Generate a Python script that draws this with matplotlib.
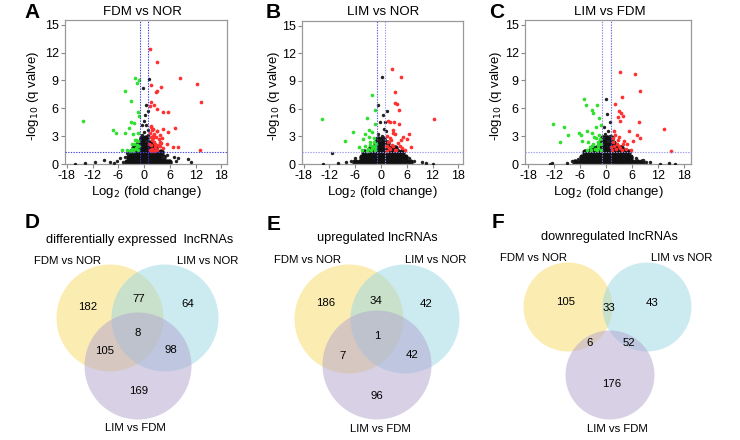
import matplotlib
matplotlib.use("Agg")
import matplotlib.pyplot as plt
from matplotlib.patches import Circle

plt.rcParams['font.family'] = ['Liberation Sans', 'DejaVu Sans']
plt.rcParams['axes.unicode_minus'] = False

W, H = 740, 440

# ---------------- volcano data ----------------
panel_titles = ["FDM vs NOR", "LIM vs NOR", "LIM vs FDM"]
panel_letters = ["A", "B", "C"]
x_ticks = [-18, -12, -6, 0, 6, 12, 18]
y_ticks = [0, 3, 6, 9, 12, 15]

# Panel A
a_red_x = [1.3, 3.1, 8.3, 12.3, 13.2, 3.9, 3.0, 2.8, 1.6, 1.6, 2.2, 1.3, 3.0, 4.4, 5.5, 1.6, 2.1, 3.0, 4.3,
           5.5, 7.2, 1.6, 3.8, 5.3, 6.7, 8.0, 13.1, 4.5, 3.4, 1.3, 1.6, 1.9, 2.2, 2.5, 2.8, 3.1, 1.4, 2.0,
           2.6, 3.4, 1.8, 2.3, 3.8, 1.2, 4.2, 2.9, 1.5, 2.4, 3.6, 1.7, 2.7, 3.3, 1.9, 4.0, 2.1]
a_red_y = [12.4, 11.0, 9.3, 8.6, 6.7, 8.3, 7.9, 7.7, 8.5, 6.7, 6.4, 6.2, 5.9, 5.6, 5.6, 4.0, 3.8, 3.5, 3.8,
           3.4, 3.9, 2.9, 2.4, 2.1, 1.8, 1.8, 1.5, 1.7, 1.9, 1.5, 2.0, 1.6, 2.4, 1.8, 2.9, 1.5, 3.3, 3.0,
           2.2, 2.7, 2.6, 1.4, 1.9, 2.2, 2.8, 3.5, 4.1, 3.2, 3.1, 1.4, 1.6, 2.0, 3.7, 2.3, 2.8]
a_green_x = [-14.2, -7.3, -6.5, -4.5, -3.1, -2.1, -1.1, -1.7, -1.4, -1.1, -2.3, -3.1, -3.6, -4.4, -2.6,
             -1.5, -5.2, -4.0, -2.8, -2.1, -1.3, -1.8, -1.3, -1.6, -2.0, -2.3, -1.4, -2.8, -1.9, -3.2,
             -1.2, -2.5]
a_green_y = [4.6, 3.7, 3.3, 7.9, 6.8, 9.3, 9.0, 8.7, 5.6, 5.2, 4.4, 4.5, 3.9, 3.3, 3.2,
             3.3, 1.5, 1.5, 2.2, 2.6, 1.9, 1.7, 1.5, 2.0, 1.6, 2.2, 2.5, 1.6, 2.6, 1.4,
             1.9, 1.4]
a_black_x = [-13.7, -11.4, -9.4, -7.9, -7.1, -6.3, -5.5, 6.9, 8.0, 10.3, 11.0, 5.3, 4.5, -4.4, -4.0,
             1.05, -0.3, 0.5, 0.8, 0.3, -0.1, -0.5, 0.5, 0.8, -0.1, -0.5, 0.8, -0.9, 0.35, -16.0, -5.0, 7.5]
a_black_y = [0.1, 0.25, 0.4, 0.25, 0.1, 0.3, 0.6, 0.8, 0.6, 0.5, 0.25, 1.0, 0.8, 0.8, 1.15,
             9.1, 8.2, 6.4, 5.7, 5.3, 4.6, 4.2, 4.2, 3.7, 3.4, 3.1, 3.1, 2.6, 2.5, 0.05, 0.2, 0.3]
a_core_x = [-4.0, -3.0, -2.0, -1.0, 0.0, 1.0, 2.0, 3.0, 4.0, 5.0, 5.8,
            -3.5, -2.5, -1.5, -0.5, 0.5, 1.5, 2.5, 3.5, 4.5,
            -3.0, -2.0, -1.0, 0.0, 1.0, 2.0, 3.0, 4.0,
            -2.3, -1.3, -0.3, 0.7, 1.7, 2.6,
            -1.2, -0.2, 0.8, 1.6,
            -0.5, 0.5]
a_core_y = [0.25] * 11 + [0.75] * 9 + [1.25] * 8 + [1.75] * 6 + [2.25] * 4 + [2.75] * 2

# Panel B
b_red_x = [2.5, 4.7, 3.3, 3.3, 3.7, 4.1, 12.4, 1.6, 2.0, 3.0, 4.1, 2.8, 3.3, 6.6, 5.2, 6.0, 4.7, 2.1,
           3.9, 2.5, 7.0, 4.8, 1.9, 3.3, 1.4, 5.6, 1.3, 1.7, 2.2, 2.9, 1.5, 2.4, 3.6, 1.2, 2.7, 4.4]
b_red_y = [10.3, 9.4, 7.8, 6.6, 6.5, 5.8, 4.9, 4.7, 4.5, 4.5, 4.3, 3.7, 3.2, 3.3, 2.9, 2.7, 2.6, 2.8,
           2.3, 2.1, 1.8, 1.7, 1.7, 1.5, 1.9, 1.5, 1.4, 2.4, 1.6, 1.9, 3.0, 2.6, 1.5, 2.0, 3.4, 2.0]
b_green_x = [-13.8, -8.3, -6.6, -3.3, -2.0, -1.5, -1.4, -3.7, -2.7, -2.1, -4.1, -2.9, -5.2, -3.7, -2.5,
             -1.7, -1.4, -2.3, -4.5, -1.3, -1.8, -2.2, -3.0, -1.6, -2.6, -1.2, -3.3]
b_green_y = [4.9, 2.5, 3.5, 5.0, 7.5, 5.8, 4.3, 3.3, 3.7, 3.5, 2.7, 2.9, 1.8, 1.9, 2.1,
             2.4, 1.8, 1.5, 1.5, 1.5, 2.0, 1.7, 1.6, 2.8, 2.4, 2.2, 1.4]
b_black_x = [0.35, -0.7, 1.4, 0.4, 0.6, -11.4, -0.3, 0.9, -0.6, 0.2, 1.1, -0.2, 0.7,
             -13.5, -10.0, -8.2, -7.0, 7.8, 9.5, 10.5, 12.0, 6.5, -6.0]
b_black_y = [9.4, 6.4, 5.7, 5.3, 3.8, 1.2, 4.6, 4.5, 3.3, 3.0, 3.6, 2.6, 2.7,
             0.05, 0.1, 0.2, 0.35, 0.35, 0.2, 0.1, 0.05, 0.7, 0.6]
b_core_x = [-6.0, -5.0, -4.0, -3.0, -2.0, -1.0, 0.0, 1.0, 2.0, 3.0, 4.0, 5.0, 6.0, 6.8,
            -4.5, -3.5, -2.5, -1.5, -0.5, 0.5, 1.5, 2.5, 3.5, 4.5, 5.5,
            -4.0, -3.0, -2.0, -1.0, 0.0, 1.0, 2.0, 3.0, 4.0, 5.0,
            -2.4, -1.4, -0.4, 0.6, 1.6, 2.6, 3.2,
            -1.2, -0.2, 0.8, 1.4,
            -0.6, 0.5]
b_core_y = [0.25] * 14 + [0.75] * 11 + [1.25] * 10 + [1.75] * 7 + [2.25] * 4 + [2.75] * 2

# Panel C
c_red_x = [3.1, 6.7, 7.8, 3.6, 2.0, 3.0, 3.4, 3.8, 2.8, 3.2, 7.5, 13.4, 1.8, 5.2, 7.1, 7.8, 6.1, 5.8,
           14.9, 1.5, 2.6, 3.8, 1.8, 3.2, 4.9, 1.3, 2.2, 2.9, 3.6, 4.2, 1.6, 2.4, 3.0, 1.2, 4.5, 2.0]
c_red_y = [9.9, 9.7, 7.9, 7.2, 6.5, 5.7, 5.5, 5.2, 5.1, 4.6, 4.5, 3.8, 3.6, 3.5, 3.1, 2.8, 2.5, 1.5,
           1.4, 2.4, 2.6, 2.2, 1.9, 1.7, 2.1, 1.5, 1.6, 2.9, 1.5, 2.5, 2.8, 2.2, 1.9, 1.8, 1.6, 3.1]
c_green_x = [-12.4, -9.7, -8.9, -10.6, -5.1, -4.7, -2.2, -3.4, -3.1, -1.6, -1.2, -2.3, -6.4, -5.8, -4.5,
             -3.4, -5.5, -4.2, -2.4, -1.6, -3.2, -4.5, -2.0, -1.3, -1.8, -2.6, -3.0, -1.5, -2.2, -3.8,
             -1.2, -2.8, -1.9, -3.5]
c_green_y = [4.3, 4.0, 3.1, 2.4, 7.0, 6.3, 6.3, 5.8, 5.5, 4.9, 4.2, 4.0, 3.3, 3.1, 3.6,
             3.3, 2.5, 2.4, 2.8, 3.1, 1.9, 1.5, 2.0, 1.5, 2.4, 1.6, 2.2, 2.7, 1.5, 1.8,
             2.1, 2.9, 1.7, 1.5]
c_black_x = [-0.1, 0.8, -0.6, 0.2, 0.4, -0.3, 0.9, -0.8, 0.3,
             -13.0, -12.5, -9.0, -8.0, 8.5, 10.0, 12.5, 14.5, 16.0, 6.8, -6.5, 9.2]
c_black_y = [7.0, 4.5, 4.0, 5.4, 3.6, 3.2, 3.0, 2.8, 2.5,
             0.05, 0.1, 0.15, 0.35, 0.4, 0.2, 0.05, 0.1, 0.05, 0.6, 0.5, 0.25]
c_core_x = [-7.2, -6.0, -5.0, -4.0, -3.0, -2.0, -1.0, 0.0, 1.0, 2.0, 3.0, 4.0, 5.0, 6.0, 7.0, 8.2,
            -5.5, -4.5, -3.5, -2.5, -1.5, -0.5, 0.5, 1.5, 2.5, 3.5, 4.5, 5.5,
            -5.0, -4.0, -3.0, -2.0, -1.0, 0.0, 1.0, 2.0, 3.0, 4.0, 5.0,
            -3.2, -2.2, -1.2, -0.2, 0.8, 1.8, 2.8, 3.3,
            -1.4, -0.4, 0.6, 1.6,
            -0.8, 0.2, 1.0]
c_core_y = [0.25] * 16 + [0.75] * 12 + [1.25] * 11 + [1.75] * 8 + [2.25] * 4 + [2.75] * 3

panels = [
    (a_core_x, a_core_y, a_red_x, a_red_y, a_green_x, a_green_y, a_black_x, a_black_y),
    (b_core_x, b_core_y, b_red_x, b_red_y, b_green_x, b_green_y, b_black_x, b_black_y),
    (c_core_x, c_core_y, c_red_x, c_red_y, c_green_x, c_green_y, c_black_x, c_black_y),
]

# ---------------- venn data ----------------
venn_titles = ["differentially expressed  lncRNAs", "upregulated lncRNAs", "downregulated lncRNAs"]
venn_letters = ["D", "E", "F"]
set_names = ["FDM vs NOR", "LIM vs NOR", "LIM vs FDM"]
# region order: only1, 1&2, only2, all, 1&3, 2&3, only3
d_counts = [182, 77, 64, 8, 105, 98, 169]
e_counts = [186, 34, 42, 1, 7, 42, 96]
f_counts = [105, 33, 43, None, 6, 52, 176]
venn_counts = [d_counts, e_counts, f_counts]

# ---------------- layout (pixels) ----------------
ax_boxes = [(65, 20, 227, 164), (302, 21, 463, 164), (525, 20, 691, 164)]
xlims = [(-18.4, 19.3), (-18.4, 19.1), (-18.8, 19.6)]
title_x = [142, 383, 610]
letter_x = [32, 273, 497]
ylabel_x = [33, 274, 496]
vline_colors = [("#3838dd", "#3838dd", "#4848e0"), ("#5a5ae0", "#9a9aee", "#9a9aee"),
                ("#8080e8", "#6060e0", "#9a9aee")]

fig = plt.figure(figsize=(W / 100, H / 100), dpi=100)

def fx(px):
    return px / W

def fy(py):
    return 1 - py / H

for i, (bx0, by0, bx1, by1) in enumerate(ax_boxes):
    ax = fig.add_axes([fx(bx0), fy(by1), (bx1 - bx0) / W, (by1 - by0) / H])
    cx, cy, rx, ry, gx, gy, kx, ky = panels[i]
    ax.scatter(cx, cy, s=22, c="#111111", linewidths=0, zorder=2)
    ax.scatter(kx, ky, s=6, c="#222222", linewidths=0, zorder=3)
    ax.scatter(rx, ry, s=7, c="#ff3030", linewidths=0, zorder=4)
    ax.scatter(gx, gy, s=7, c="#30e030", linewidths=0, zorder=4)
    lc = vline_colors[i]
    ax.axvline(-1, color=lc[0], ls=(0, (1.2, 1.2)), lw=0.8, zorder=5)
    ax.axvline(1, color=lc[1], ls=(0, (1.2, 1.2)), lw=0.8, zorder=5)
    ax.axhline(1.3, color=lc[2], ls=(0, (1.2, 1.2)), lw=0.8, zorder=5)
    ax.set_xlim(*xlims[i])
    ax.set_ylim(0, 15.5)
    ax.set_xticks(x_ticks)
    ax.set_yticks(y_ticks)
    ax.tick_params(labelsize=9, length=3, width=0.8, color="#888888", pad=1.5)
    for s in ax.spines.values():
        s.set_color("#999999")
        s.set_linewidth(0.9)
    fig.text(fx(title_x[i]), fy(12), panel_titles[i], ha="center", va="center", fontsize=9.5)
    fig.text(fx(letter_x[i]), fy(13), panel_letters[i], ha="center", va="center",
             fontsize=15, fontweight="bold")
    fig.text(fx(ylabel_x[i]), fy(96), r"-log$_{10}$ (q valve)", ha="center", va="center",
             rotation=90, fontsize=9.5)
    fig.text(fx((bx0 + bx1) / 2), fy(192), r"Log$_2$ (fold change)", ha="center", va="center",
             fontsize=9.5)

# ---------------- venn diagrams ----------------
ov = fig.add_axes([0, 0, 1, 1])
ov.set_xlim(0, W)
ov.set_ylim(H, 0)
ov.axis("off")
ov.patch.set_alpha(0)

circ_colors = ["#f8da66", "#98d8e5", "#b2a4cf"]
circles = [
    [(110, 318, 53.5), (165, 318, 53.5), (138, 366, 53.5)],
    [(349, 319, 54.5), (405, 319, 54.5), (377, 365, 54.5)],
    [(568, 307, 44.5), (647, 307, 44.5), (610, 375, 44.5)],
]
venn_title_pos = [(140, 240), (377, 238), (609, 237)]
venn_letter_pos = [(32, 223), (274, 224), (498, 223)]
name_pos = [
    [(68, 261), (208, 261), (135, 428)],
    [(308, 260), (436, 260), (380, 429)],
    [(533, 258), (682, 258), (617, 429)],
]
count_pos = [
    [(88, 307), (139, 299), (188, 304), (138, 333), (105, 351), (171, 350), (139, 391)],
    [(326, 303), (376, 301), (426, 304), (377, 336), (343, 356), (412, 355), (377, 396)],
    [(566, 302), (609, 308), (652, 303), None, (590, 343), (629, 343), (612, 384)],
]

for v in range(3):
    for k, (ccx, ccy, r) in enumerate(circles[v]):
        ov.add_patch(Circle((ccx, ccy), r, facecolor=circ_colors[k], edgecolor="none",
                            alpha=0.5, zorder=1 + k))
    tx, ty = venn_title_pos[v]
    ov.text(tx, ty, venn_titles[v], ha="center", va="center", fontsize=9.2, zorder=10)
    lx, ly = venn_letter_pos[v]
    ov.text(lx, ly, venn_letters[v], ha="center", va="center", fontsize=15,
            fontweight="bold", zorder=10)
    for k in range(3):
        nx, ny = name_pos[v][k]
        ov.text(nx, ny, set_names[k], ha="center", va="center", fontsize=8.2, zorder=10)
    for k, val in enumerate(venn_counts[v]):
        if val is None or count_pos[v][k] is None:
            continue
        px, py = count_pos[v][k]
        ov.text(px, py, str(val), ha="center", va="center", fontsize=8.2, zorder=10)

fig.savefig("out.png", dpi=100)
